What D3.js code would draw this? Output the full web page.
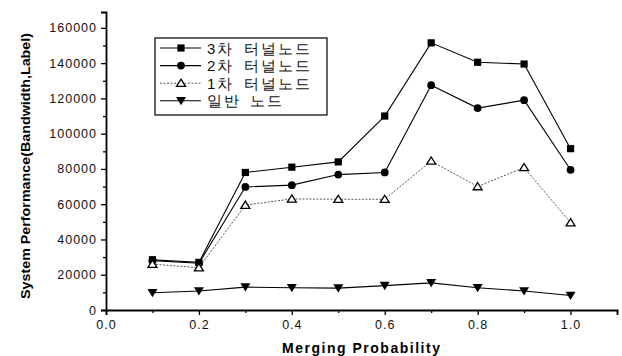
<!DOCTYPE html>
<html>
<head>
<meta charset="utf-8">
<script src="https://cdn.jsdelivr.net/npm/d3@7"></script>
<style>
  body { margin: 0; background: #fff; }
  text { font-family: "Liberation Sans", Arial, sans-serif; }
</style>
</head>
<body>
<div id="chart"></div>
<script>
// data
const probs = [0.1, 0.2, 0.3, 0.4, 0.5, 0.6, 0.7, 0.8, 0.9, 1.0];
const tunnel3 = [28500, 27000, 78000, 81000, 84000, 110000, 151500, 140500, 139500, 91500];
const tunnel2 = [28000, 26500, 69800, 70800, 76800, 78000, 127500, 114500, 119000, 79500];
const tunnel1 = [26000, 24000, 59500, 63000, 62800, 62800, 84500, 70000, 80800, 49500];
const normal  = [9800, 10800, 13000, 12600, 12400, 13800, 15400, 12600, 10800, 8200];
const seriesNames = ["3차 터널노드", "2차 터널노드", "1차 터널노드", "일반 노드"];
const xTicks = [0.0, 0.2, 0.4, 0.6, 0.8, 1.0];
const yTicks = [0, 20000, 40000, 60000, 80000, 100000, 120000, 140000, 160000];

const width = 622, height = 356;
const margin = {top: 12, right: 5, bottom: 46, left: 106};

const svg = d3.select("#chart").append("svg")
    .attr("width", width).attr("height", height);

const x = d3.scaleLinear().domain([0, 1.1]).range([margin.left, width - margin.right]);
const y = d3.scaleLinear().domain([0, 169000]).range([height - margin.bottom, margin.top]);

// axes
svg.append("g")
    .attr("transform", "translate(0," + y(0) + ")")
    .call(d3.axisBottom(x).tickValues(xTicks).tickFormat(d3.format(".1f")).tickSize(5).tickPadding(5));
const xMinor = svg.append("g")
    .attr("transform", "translate(0," + y(0) + ")")
    .call(d3.axisBottom(x).tickValues([0.1, 0.3, 0.5, 0.7, 0.9, 1.1]).tickFormat("").tickSize(3));
xMinor.select(".domain").remove();

svg.append("g")
    .attr("transform", "translate(" + x(0) + ",0)")
    .call(d3.axisLeft(y).tickValues(yTicks).tickFormat(d3.format("d")).tickSize(5).tickPadding(4));
const yMinor = svg.append("g")
    .attr("transform", "translate(" + x(0) + ",0)")
    .call(d3.axisLeft(y).tickValues(d3.range(10000, 170000, 20000)).tickFormat("").tickSize(3));
yMinor.select(".domain").remove();

svg.selectAll(".domain").attr("stroke-width", 1.8).attr("stroke", "#000");
svg.selectAll(".tick line").attr("stroke", "#000").attr("stroke-width", 1.3);
svg.selectAll(".tick text")
    .attr("font-family", "Liberation Sans, Arial, sans-serif")
    .attr("font-size", 12.5).attr("letter-spacing", 1).attr("fill", "#111");

// axis titles
svg.append("text")
    .attr("x", 361).attr("y", 353)
    .attr("text-anchor", "middle")
    .attr("font-size", 14).attr("font-weight", "bold")
    .attr("textLength", 158).attr("lengthAdjust", "spacing")
    .text("Merging Probability");

svg.append("text")
    .attr("transform", "translate(30,166) rotate(-90)")
    .attr("text-anchor", "middle")
    .attr("font-size", 13.5).attr("font-weight", "bold")
    .attr("textLength", 266).attr("lengthAdjust", "spacingAndGlyphs")
    .text("System Performance(Bandwidth,Label)");

// series
const series = [
    {name: seriesNames[0], values: tunnel3, shape: "square", dash: null, color: "#000", w: 1.1},
    {name: seriesNames[1], values: tunnel2, shape: "circle", dash: null, color: "#000", w: 1.1},
    {name: seriesNames[2], values: tunnel1, shape: "triUp", dash: "2,1.5", color: "#444", w: 0.9},
    {name: seriesNames[3], values: normal, shape: "triDown", dash: null, color: "#000", w: 1.1}
];

const line = d3.line().x(d => x(d[0])).y(d => y(d[1]));

function drawMarker(g, shape, cx, cy) {
    if (shape === "square") {
        g.append("rect").attr("x", cx - 3.6).attr("y", cy - 3.6)
            .attr("width", 7.2).attr("height", 7.2).attr("fill", "#000");
    } else if (shape === "circle") {
        g.append("circle").attr("cx", cx).attr("cy", cy).attr("r", 3.9).attr("fill", "#000");
    } else if (shape === "triUp") {
        g.append("path")
            .attr("d", "M" + cx + "," + (cy - 4) + "L" + (cx + 4.5) + "," + (cy + 3.2) + "L" + (cx - 4.5) + "," + (cy + 3.2) + "Z")
            .attr("fill", "#fff").attr("stroke", "#000").attr("stroke-width", 1.3);
    } else {
        g.append("path")
            .attr("d", "M" + (cx - 5) + "," + (cy - 3.8) + "L" + (cx + 5) + "," + (cy - 3.8) + "L" + cx + "," + (cy + 4.5) + "Z")
            .attr("fill", "#000");
    }
}

series.forEach(s => {
    const pts = probs.map((p, i) => [p, s.values[i]]);
    const g = svg.append("g");
    g.append("path")
        .attr("d", line(pts))
        .attr("fill", "none")
        .attr("stroke", s.color)
        .attr("stroke-width", s.w)
        .attr("stroke-dasharray", s.dash);
    pts.forEach(d => drawMarker(g, s.shape, x(d[0]), y(d[1])));
});

// legend
const legend = svg.append("g");
legend.append("rect")
    .attr("x", 155).attr("y", 38).attr("width", 172).attr("height", 77)
    .attr("fill", "#fff").attr("stroke", "#000").attr("stroke-width", 1.2);

series.forEach((s, i) => {
    const ly = 48 + i * 17.6;
    legend.append("line")
        .attr("x1", 160).attr("x2", 201).attr("y1", ly).attr("y2", ly)
        .attr("stroke", s.color).attr("stroke-width", s.w)
        .attr("stroke-dasharray", s.dash);
    drawMarker(legend, s.shape, 181, ly);
    legend.append("text")
        .attr("x", 207).attr("y", ly + 5.5)
        .attr("font-size", 15)
        .attr("letter-spacing", 2)
        .attr("word-spacing", 3)
        .attr("font-family", "'Noto Sans CJK KR', sans-serif")
        .attr("fill", "#111")
        .text(s.name);
});
</script>
</body>
</html>
